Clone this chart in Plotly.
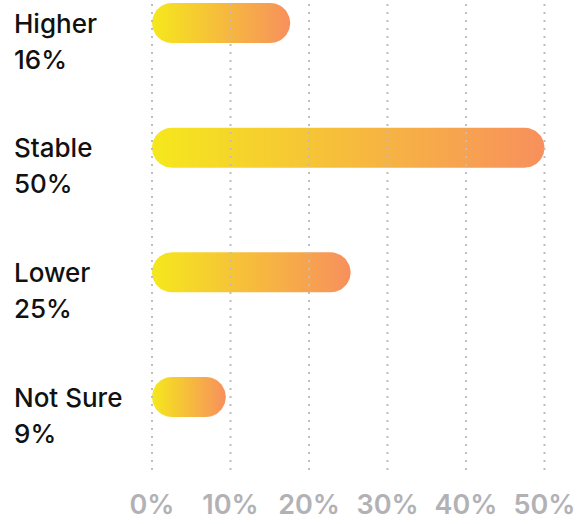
import numpy as np
import plotly.graph_objects as go

# ---- data ----
categories = ["Higher", "Stable", "Lower", "Not Sure"]
pct_labels = ["16%", "50%", "25%", "9%"]
bar_values = [17.6, 50.0, 25.3, 9.4]          # bar lengths as drawn (percent)
tick_values = [0, 10, 20, 30, 40, 50]
tick_labels = ["0%", "10%", "20%", "30%", "40%", "50%"]

# ---- style ----
W, H = 587, 524
C_START, C_END = "#F5E81C", "#F7905D"
GRID_COLOR = "#BDBDBD"
TICK_COLOR = "#B2B2B6"
FONT = "Inter"

# pixel geometry of the plot area
L_M, R_M, T_M, B_M = 136, 27, 0, 54
px_per_x = 7.85          # pixels per percent
x0_px = 152              # pixel of 0%
plot_w = W - L_M - R_M
plot_h = H - T_M - B_M
x_min = (L_M - x0_px) / px_per_x
x_max = x_min + plot_w / px_per_x

n = len(categories)
ypos = list(range(n - 1, -1, -1))   # Higher on top
px_per_y = 124.67
top_pad_px, bot_pad_px = 23, 73
y_max = ypos[0] + top_pad_px / px_per_y
y_min = ypos[-1] - bot_pad_px / px_per_y

bar_half_px = 20
hy = bar_half_px / px_per_y
rx = bar_half_px / px_per_x

fig = go.Figure()

for cat, v, y in zip(categories, bar_values, ypos):
    t_right = np.linspace(-np.pi / 2, np.pi / 2, 40)
    t_left = np.linspace(np.pi / 2, 3 * np.pi / 2, 40)
    xr = (v - rx) + rx * np.cos(t_right)
    yr = y + hy * np.sin(t_right)
    xl = rx + rx * np.cos(t_left)
    yl = y + hy * np.sin(t_left)
    xs = np.concatenate([xr, xl, xr[:1]])
    ys = np.concatenate([yr, yl, yr[:1]])
    fig.add_trace(go.Scatter(
        x=xs, y=ys, mode="lines", fill="toself",
        line=dict(width=0, color=C_END),
        fillgradient=dict(type="horizontal",
                          colorscale=[[0, C_START], [1, C_END]]),
        hoverinfo="skip", showlegend=False, name=cat,
    ))

# dotted grid lines drawn above the bars
for tv in tick_values:
    fig.add_shape(type="line", xref="x", yref="paper", x0=tv, x1=tv, y0=0, y1=1,
                  line=dict(color=GRID_COLOR, width=2, dash="2px,6px"),
                  layer="above")

# left labels
for cat, lab, y in zip(categories, pct_labels, ypos):
    xa = (12 - L_M) / plot_w
    fig.add_annotation(x=xa, xref="paper", y=y, yref="y", text=cat,
                       xanchor="left", yanchor="middle", yshift=0, showarrow=False,
                       font=dict(family=FONT, size=26, color="#111111", weight=500))
    fig.add_annotation(x=xa, xref="paper", y=y, yref="y", text=lab,
                       xanchor="left", yanchor="middle", yshift=-36, showarrow=False,
                       font=dict(family=FONT, size=26, color="#111111", weight=500))

fig.update_layout(
    width=W, height=H,
    margin=dict(l=L_M, r=R_M, t=T_M, b=B_M),
    paper_bgcolor="white", plot_bgcolor="white",
    xaxis=dict(range=[x_min, x_max], tickvals=tick_values, ticktext=tick_labels,
               showgrid=False, zeroline=False, showline=False, ticks="",
               ticklabelstandoff=16,
               tickfont=dict(family=FONT, size=27, color=TICK_COLOR, weight=600),
               fixedrange=True),
    yaxis=dict(range=[y_min, y_max], showgrid=False, zeroline=False,
               showline=False, showticklabels=False, fixedrange=True),
)

fig.write_html("out.html")
